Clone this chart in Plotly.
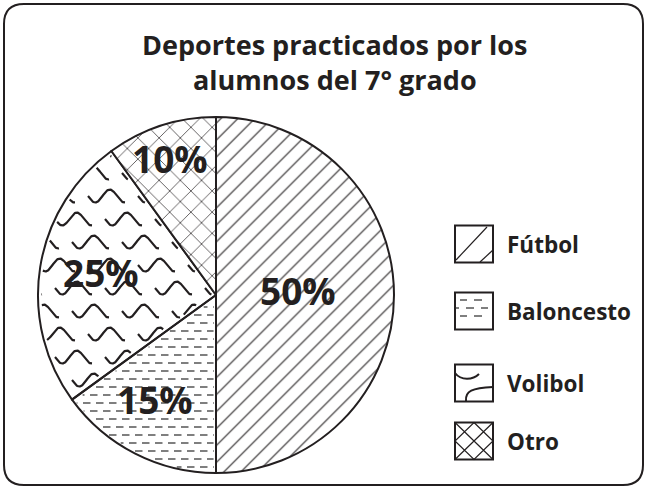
import numpy as np
import plotly.graph_objects as go

# ---------------- data ----------------
labels = ["Fútbol", "Baloncesto", "Volibol", "Otro"]
values = [50, 15, 25, 10]
title_lines = ["Deportes practicados por los", "alumnos del 7° grado"]

# ---------------- geometry / style ----------------
W, H = 645, 488
CX, CY, R = 216, 295, 178
INK = "#231f20"
FONT = "Open Sans"

total = sum(values)
bounds = np.concatenate([[0], np.cumsum(values)]) / total * 360.0  # clockwise from 12 o'clock
starts, ends = bounds[:-1], bounds[1:]

fig = go.Figure()


def clip_mask(px, py, a0, a1, rmax, pad=3.0):
    dx = px - CX
    dy = CY - py
    th = np.degrees(np.arctan2(dx, dy)) % 360
    r = np.hypot(dx, dy)
    d0 = r * np.sin(np.radians(np.clip(th - a0, 0, 90)))
    d1 = r * np.sin(np.radians(np.clip(a1 - th, 0, 90)))
    return (r < rmax) & (th > a0) & (th < a1) & (d0 > pad) & (d1 > pad)


# --- wavy hatching for Volibol (index 2) ---
a0, a1 = starts[2], ends[2]
wx, wy = [], []
for i, yrow in enumerate(np.arange(CY - R + 10, CY + R, 23)):
    off = (i % 3) * 17
    for s in np.arange(CX - R - 50 + off, CX + 10, 50):
        x = np.linspace(s, s + 37, 70)
        y = yrow + 6.5 * np.sin(2 * np.pi * (x - s) / 29.0)
        m = clip_mask(x, y, a0, a1, R - 3, pad=3)
        x = np.where(m, x, np.nan)
        y = np.where(m, y, np.nan)
        wx.extend(list(x) + [np.nan])
        wy.extend(list(y) + [np.nan])
fig.add_trace(go.Scatter(x=wx, y=wy, mode="lines", line=dict(color=INK, width=2.2),
                         hoverinfo="skip", showlegend=False))

# --- dashed hatching for Baloncesto (index 1) ---
a0, a1 = starts[1], ends[1]
dx_, dy_ = [], []
for i, yrow in enumerate(np.arange(CY + 4, CY + R, 8)):
    off = (i % 2) * 6
    for s in np.arange(CX - R + off, CX, 13):
        x = np.linspace(s, s + 7.5, 9)
        y = np.full_like(x, yrow)
        m = clip_mask(x, y, a0, a1, R - 1.5, pad=2)
        x = np.where(m, x, np.nan)
        y = np.where(m, y, np.nan)
        dx_.extend(list(x) + [np.nan])
        dy_.extend(list(y) + [np.nan])
fig.add_trace(go.Scatter(x=dx_, y=dy_, mode="lines", line=dict(color="#2a2a2a", width=1.2),
                         hoverinfo="skip", showlegend=False))

# --- pie ---
fig.add_trace(go.Pie(
    labels=labels, values=values, sort=False, direction="clockwise", rotation=0,
    domain=dict(x=[(CX - R) / W, (CX + R) / W], y=[(H - CY - R) / H, (H - CY + R) / H]),
    textinfo="none", hoverinfo="label+percent", showlegend=False,
    marker=dict(
        colors=["white", "rgba(0,0,0,0)", "rgba(0,0,0,0)", "white"],
        line=dict(color=INK, width=2),
        pattern=dict(shape=["/", "", "", "x"], size=[12, 8, 8, 15],
                     solidity=[0.09, 0.1, 0.1, 0.09],
                     fgcolor=INK, bgcolor=["white", "rgba(0,0,0,0)", "rgba(0,0,0,0)", "white"]),
    ),
))

annotations = []
# title (two lines)
for txt, yy in zip(title_lines, [44, 79]):
    annotations.append(dict(x=335, y=yy, xref="x", yref="y", text=f"<b>{txt}</b>",
                            showarrow=False, font=dict(family=FONT, size=27, color=INK),
                            xanchor="center", yanchor="middle"))

# percentage labels placed from slice mid-angles
label_r = [0.46, 0.68, 0.66, 0.81]
label_da = [-3.5, 3.0, 1.8, -0.7]
for v, a_s, a_e, rf, da in zip(values, starts, ends, label_r, label_da):
    mid = np.radians((a_s + a_e) / 2 + da)
    lx = CX + rf * R * np.sin(mid)
    ly = CY - rf * R * np.cos(mid)
    annotations.append(dict(x=lx, y=ly, xref="x", yref="y", text=f"<b>{round(v / total * 100)}%</b>",
                            showarrow=False, font=dict(family=FONT, size=37, color=INK),
                            xanchor="center", yanchor="middle"))

# custom legend
leg_y = [244, 311, 383, 441]
BX0, BX1, BS = 455, 493, 37
shapes = []
for lab, yc in zip(labels, leg_y):
    y0, y1 = yc - BS / 2, yc + BS / 2
    shapes.append(dict(type="rect", xref="x", yref="y", x0=BX0, x1=BX1, y0=y0, y1=y1,
                       line=dict(color=INK, width=2), fillcolor="white"))
    annotations.append(dict(x=505, y=yc, xref="x", yref="y", text=f"<b>{lab}</b>", showarrow=False,
                            font=dict(family=FONT, size=22.5, color=INK), xanchor="left", yanchor="middle"))

# legend glyphs
yc = leg_y[0]
shapes.append(dict(type="line", xref="x", yref="y", x0=BX0 + 1, y0=yc + 16, x1=BX1 - 6, y1=yc - 17,
                   line=dict(color=INK, width=1.2)))
shapes.append(dict(type="line", xref="x", yref="y", x0=BX1 - 13, y0=yc + 18, x1=BX1, y1=yc + 6,
                   line=dict(color=INK, width=1.2)))
yc = leg_y[1]
for yy, xs in [(yc - 11, [(460, 467), (474, 482)]), (yc - 3, [(455, 459), (466, 474), (481, 488)]),
               (yc + 5, [(460, 467), (474, 482)])]:
    for xa, xb in xs:
        shapes.append(dict(type="line", xref="x", yref="y", x0=xa, y0=yy, x1=xb, y1=yy,
                           line=dict(color="#2a2a2a", width=1.2)))
yc = leg_y[2]
shapes.append(dict(type="path", xref="x", yref="y",
                   path=f"M {BX0},{yc - 10} C {BX0 + 6},{yc - 2} {BX0 + 18},{yc - 3} {BX0 + 24},{yc - 9}",
                   line=dict(color=INK, width=2)))
shapes.append(dict(type="path", xref="x", yref="y",
                   path=f"M {BX0 + 11},{yc + 18} C {BX0 + 10},{yc + 8} {BX0 + 17},{yc + 5} {BX1},{yc + 4}",
                   line=dict(color=INK, width=2)))
yc = leg_y[3]
y0, y1 = yc - BS / 2, yc + BS / 2
xm, ym = (BX0 + BX1) / 2, yc
shapes.append(dict(type="path", xref="x", yref="y",
                   path=f"M {BX0},{y0} L {BX1},{y1} M {BX1},{y0} L {BX0},{y1} "
                        f"M {xm},{y0} L {BX1},{ym} L {xm},{y1} L {BX0},{ym} Z",
                   line=dict(color=INK, width=1.2)))

# outer rounded border
x0, y0, x1, y1, rr = 4, 4, 643, 485, 20
shapes.append(dict(type="path", xref="x", yref="y", line=dict(color=INK, width=2),
                   path=(f"M {x0 + rr},{y0} L {x1 - rr},{y0} Q {x1},{y0} {x1},{y0 + rr} "
                         f"L {x1},{y1 - rr} Q {x1},{y1} {x1 - rr},{y1} L {x0 + rr},{y1} "
                         f"Q {x0},{y1} {x0},{y1 - rr} L {x0},{y0 + rr} Q {x0},{y0} {x0 + rr},{y0} Z")))

fig.update_layout(
    width=W, height=H, margin=dict(l=0, r=0, t=0, b=0),
    paper_bgcolor="white", plot_bgcolor="white",
    xaxis=dict(range=[0, W], visible=False, fixedrange=True, domain=[0, 1]),
    yaxis=dict(range=[H, 0], visible=False, fixedrange=True, domain=[0, 1]),
    shapes=shapes, annotations=annotations, showlegend=False,
)

fig.write_html("out.html", config={"displayModeBar": False},
               post_script="document.body.style.margin='0';document.body.style.overflow='hidden';")
